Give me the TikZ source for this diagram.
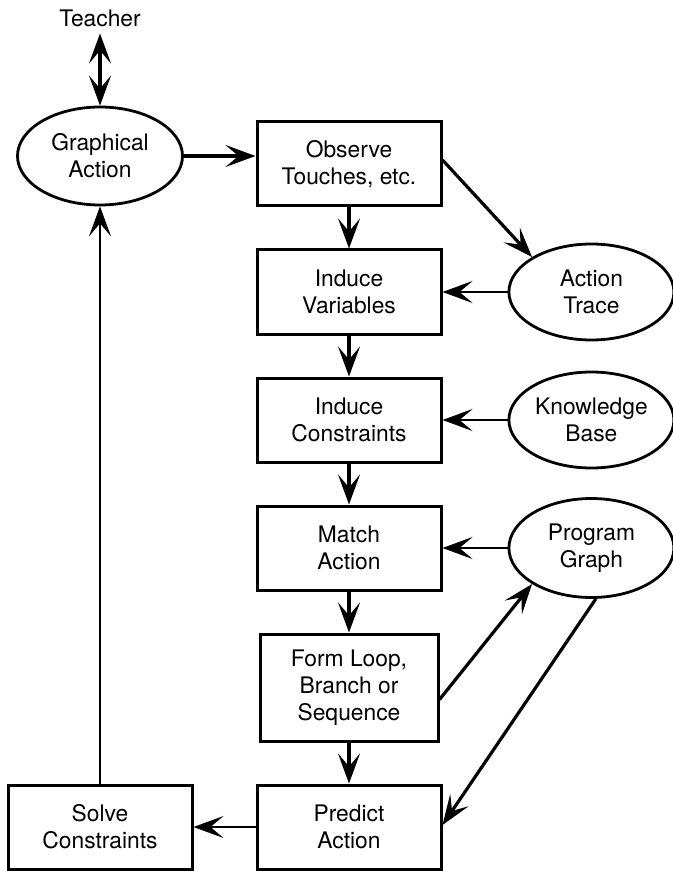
\documentclass[tikz,border=0pt]{standalone}
\usepackage{fontspec}
\setmainfont{TeX Gyre Heros}
\usetikzlibrary{arrows.meta}
\usetikzlibrary{positioning}
\usetikzlibrary{shapes.geometric}

\begin{document}
\begin{tikzpicture}[
				node distance=20.5pt,
				font=\fontsize{11.4pt}{13.5pt}\selectfont,
				>={Stealth[length=15pt, width=11pt, inset=6.5pt]},
				arrow/.style={line width=1.6pt, ->},
				thinarrow/.style={line width=1.1pt, ->},
				block/.style={draw, line width=1.5pt, align=center, minimum width=92pt, minimum height=42pt, inner sep=2pt},
				oval/.style={draw, ellipse, line width=1.4pt, align=center, minimum width=82.5pt, minimum height=48pt, inner sep=0pt},
			]
				\useasboundingbox (0,0) rectangle (336.5pt,-435.5pt);
				% main column
				\node (obs) [block] at (174.5pt,-82pt) {Observe\\Touches, etc.};
				\node (ivar) [block, below=of obs] {Induce\\Variables};
				\node (icon) [block, below=of ivar] {Induce\\Constraints};
				\node (mact) [block, below=of icon] {Match\\Action};
				\node (form) [block, below=of mact, minimum width=89pt, minimum height=53.5pt] {Form Loop,\\Branch or\\Sequence};
				\node (pred) [block, below=of form] {Predict\\Action};
				% side nodes
				\node (trace) [oval, right=32.5pt of ivar] {Action\\Trace};
				\node (kb) [oval, right=32.5pt of icon] {Knowledge\\Base};
				\node (pg) [oval, right=32.5pt of mact, minimum height=49.5pt] {Program\\Graph};
				\node (solve) [block, left=31pt of pred] {Solve\\Constraints};
				\node (gact) [oval, minimum height=49pt] at (50pt,-78pt) {Graphical\\Action};
				\node (teacher) at (50pt,-9pt) {Teacher};
				
				\draw[arrow, <->] (teacher) -- (gact);
				\draw[arrow] (gact) -- (gact -| obs.west);
				\draw[arrow] (obs) -- (ivar);
				\draw[arrow] (ivar) -- (icon);
				\draw[arrow] (icon) -- (mact);
				\draw[arrow] (mact) -- (form);
				\draw[arrow] (form) -- (pred);
				\draw[arrow] ([yshift=2pt]obs.east) -- (trace.north west);
				\draw[thinarrow] (trace) -- (ivar);
				\draw[thinarrow] (kb) -- (icon);
				\draw[thinarrow] (pg) -- (mact);
				\draw[arrow] ([yshift=-6pt]form.east) -- (pg.south west);
				\draw[arrow] (pg.-85) -- ([yshift=1pt]pred.east);
				\draw[thinarrow] (pred) -- (solve);
				\draw[thinarrow] (solve.north) -- (solve.north |- gact.south);
			\end{tikzpicture}
\end{document}
